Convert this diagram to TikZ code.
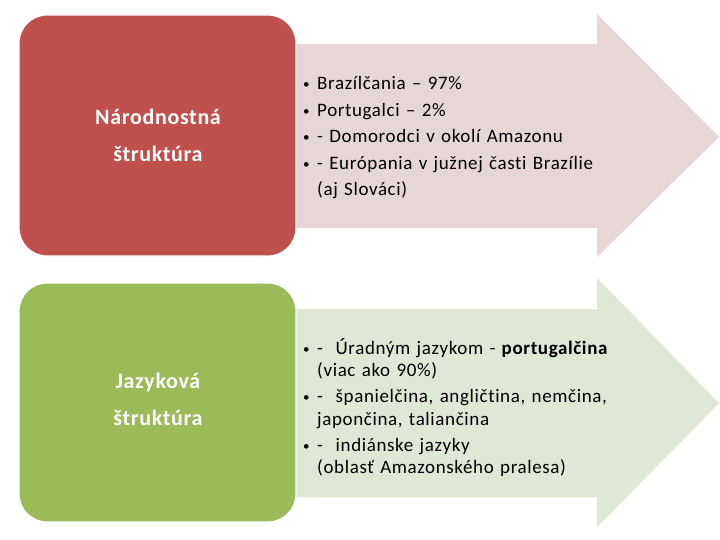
\documentclass[tikz,border=0pt]{standalone}
\usepackage{fontspec}
\setmainfont[Ligatures=NoCommon]{Carlito}
\definecolor{boxred}{RGB}{192,80,77}
\definecolor{boxgreen}{RGB}{155,187,89}
\definecolor{arrred}{RGB}{231,214,214}
\definecolor{arrgreen}{RGB}{223,231,213}
\newcommand{\bul}{\makebox[14pt][l]{\raisebox{1pt}{\fontsize{13}{13}\selectfont•}}}
\newcommand{\ind}{\hspace*{14pt}}
\begin{document}
\begin{tikzpicture}[x=1pt,y=-1pt]
\tikzset{
  catbox/.style={draw=white,line width=1.2pt,rounded corners=28pt},
  cattext/.style={text=white,font=\fontsize{22}{37}\selectfont\bfseries\addfontfeature{LetterSpace=3},align=center,inner sep=0pt,anchor=base},
  listtext/.style={align=left,inner sep=0pt,anchor=base west,text width=330pt}
}
\fill[white] (0,0) rectangle (720,540);
\useasboundingbox (0,0) rectangle (720,540);
% arrows
\fill[arrred] (290,44) -- (597,44) -- (597,14) -- (719,137) -- (597,257) -- (597,228) -- (290,228) -- cycle;
\fill[arrgreen] (290,309) -- (597,309) -- (597,278) -- (719,403) -- (597,527) -- (597,497) -- (290,497) -- cycle;
% boxes
\filldraw[catbox,fill=boxred] (19,15) rectangle (296,256);
\filldraw[catbox,fill=boxgreen] (19,283) rectangle (296,522);
\node[cattext] (t1) at (158,162) {Národnostná\\štruktúra};
\node[cattext] (t2) at (158,425) {Jazyková\\štruktúra};
\node[listtext,font=\fontsize{19}{26.5}\selectfont\addfontfeature{LetterSpace=3.3}] (l1) at (303,90) {\bul Brazílčania – 97\%\\
\bul Portugalci – 2\%\\
\bul - Domorodci v okolí Amazonu\\
\bul - Európania v južnej časti Brazílie\\
\ind(aj Slováci)};
\node[listtext,font=\fontsize{19}{22.5}\selectfont\addfontfeature{LetterSpace=3.3}] (l2) at (303,354) {\bul -\ \ Úradným jazykom - \textbf{portugalčina}\\
\ind(viac ako 90\%)\\[3.5pt]
\bul -\ \ španielčina, angličtina, nemčina,\\
\ind japončina, taliančina\\[3.5pt]
\bul -\ \ indiánske jazyky\\
\ind(oblasť Amazonského pralesa)};
\end{tikzpicture}
\end{document}
